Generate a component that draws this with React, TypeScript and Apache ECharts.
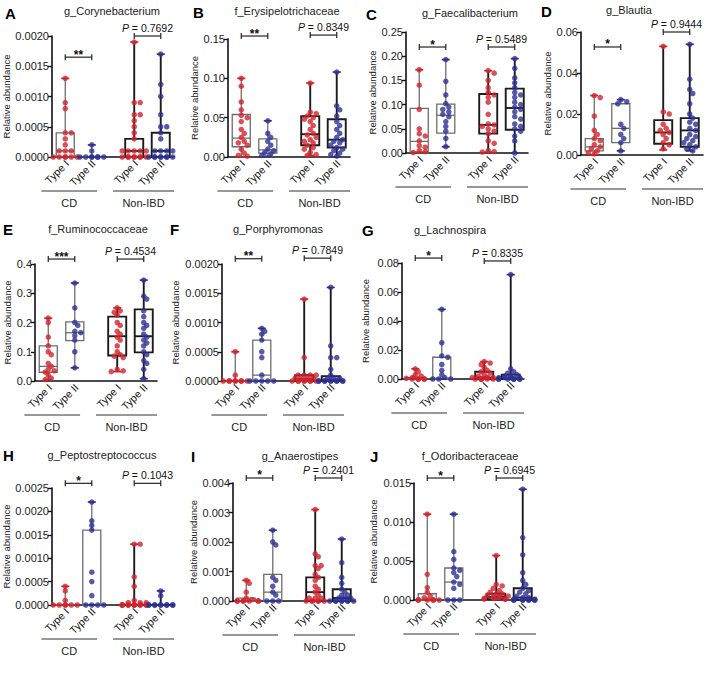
import React, { useEffect, useRef } from "react";
import * as echarts from "echarts";

// ---------------- data ----------------
const TITLES = ["g_Corynebacterium", "f_Erysipelotrichaceae", "g_Faecalibacterium", "g_Blautia", "f_Ruminococcaceae", "g_Porphyromonas", "g_Lachnospira", "g_Peptostreptococcus", "g_Anaerostipes", "f_Odoribacteraceae"];
const LETTERS = ["A", "B", "C", "D", "E", "F", "G", "H", "I", "J"];
const TYPE_LABELS = ["Type I", "Type II", "Type I", "Type II"];
const GROUP_LABELS = ["CD", "Non-IBD"];
const CD_STARS = ["**", "**", "*", "*", "***", "**", "*", "*", "*", "*"];
const NONIBD_P = ["0.7692", "0.8349", "0.5489", "0.9444", "0.4534", "0.7849", "0.8335", "0.1043", "0.2401", "0.6945"];
const Y_MAX = [0.002, 0.15, 0.25, 0.06, 0.4, 0.002, 0.08, 0.0025, 0.004, 0.015];
const Y_STEP = [0.0005, 0.05, 0.05, 0.02, 0.1, 0.0005, 0.02, 0.0005, 0.001, 0.005];
const Y_DEC = [4, 2, 2, 2, 1, 4, 2, 4, 3, 3];
const CD_BRACKET_Y = [0.00165, 0.1538, 0.219, 0.0527, 0.417, 0.00209, 0.0834, 0.0026, 0.00417, 0.01564];
const NONIBD_BRACKET_Y = [0.002, 0.155, 0.219, 0.06, 0.417, 0.0021, 0.0814, 0.0026, 0.00417, 0.01564];

// boxes: [min, q1, median, q3, max] for CD Type I, CD Type II, Non-IBD Type I, Non-IBD Type II
const boxA = [[0, 0, 0.0001, 0.0004, 0.0013], [0, 0, 0, 0, 0.0002], [0, 0, 0.0001, 0.0003, 0.0019], [0, 0, 0.0001, 0.0004, 0.0017]];
const boxB = [[0, 0.013, 0.024, 0.054, 0.10], [0.001, 0.005, 0.009, 0.023, 0.046], [0.002, 0.015, 0.029, 0.052, 0.094], [0, 0.012, 0.022, 0.048, 0.108]];
const boxC = [[0.001, 0.002, 0.024, 0.092, 0.172], [0.013, 0.041, 0.078, 0.101, 0.193], [0.002, 0.04, 0.058, 0.122, 0.17], [0, 0.048, 0.093, 0.133, 0.195]];
const boxD = [[0, 0.002, 0.004, 0.008, 0.029], [0.002, 0.006, 0.013, 0.025, 0.027], [0.0025, 0.0055, 0.011, 0.017, 0.053], [0.002, 0.004, 0.012, 0.018, 0.054]];
const boxE = [[0.005, 0.03, 0.05, 0.12, 0.215], [0.045, 0.138, 0.165, 0.202, 0.335], [0.032, 0.087, 0.153, 0.22, 0.25], [0.008, 0.098, 0.153, 0.245, 0.345]];
const boxF = [[0, 0, 0, 0, 0.0005], [0, 0, 0.0001, 0.0007, 0.0009], [0, 0, 0.00003, 0.0001, 0.0014], [0, 0, 0.00002, 0.00008, 0.0016]];
const boxG = [[0, 0, 0.0002, 0.001, 0.007], [0, 0, 0.0005, 0.015, 0.048], [0, 0, 0.001, 0.005, 0.012], [0, 0, 0.0005, 0.003, 0.072]];
const boxH = [[0, 0, 0, 0, 0.0004], [0, 0, 0, 0.0016, 0.0022], [0, 0, 0, 0, 0.0013], [0, 0, 0, 0, 0.0003]];
const boxI = [[0, 0, 0, 0.0001, 0.0007], [0, 0, 0.0003, 0.0009, 0.0024], [0, 0, 0.0003, 0.0008, 0.0031], [0, 0, 0.0001, 0.0004, 0.0021]];
const boxJ = [[0, 0, 0.0001, 0.0008, 0.011], [0, 0, 0.0023, 0.0041, 0.011], [0.0001, 0.0001, 0.0004, 0.0008, 0.0057], [0, 0, 0.0003, 0.0015, 0.0142]];

// individual samples
const ptsA = [
  [0.0013, 0.0009, 0.0008, 0.0004, 0.0004, 0.0003, 0.0002, 0.0001, 0.0001, 0.0001, 0, 0, 0, 0, 0, 0],
  [0.0002, 0.0001, 0, 0, 0, 0, 0, 0, 0],
  [0.0019, 0.0009, 0.0009, 0.0007, 0.0007, 0.0006, 0.0005, 0.0004, 0.0003, 0.0001, 0.0001, 0.0001, 0.0001, 0.0001, 0, 0, 0, 0, 0, 0, 0, 0],
  [0.0017, 0.0012, 0.001, 0.0007, 0.0005, 0.0005, 0.0004, 0.0003, 0.0001, 0.0001, 0.0001, 0.0001, 0, 0, 0, 0, 0, 0, 0, 0],
];
const ptsB = [
  [0.10, 0.09, 0.07, 0.06, 0.053, 0.05, 0.045, 0.035, 0.03, 0.025, 0.02, 0.018, 0.015, 0.01, 0.005, 0.002, 0.001],
  [0.046, 0.03, 0.025, 0.02, 0.015, 0.01, 0.008, 0.006, 0.004, 0.002],
  [0.094, 0.057, 0.055, 0.052, 0.05, 0.048, 0.045, 0.04, 0.035, 0.03, 0.028, 0.025, 0.022, 0.02, 0.018, 0.015, 0.012, 0.01, 0.006, 0.003, 0.002],
  [0.108, 0.065, 0.06, 0.052, 0.045, 0.04, 0.035, 0.03, 0.025, 0.022, 0.02, 0.018, 0.015, 0.012, 0.01, 0.008, 0.005, 0.003, 0.001],
];
const ptsC = [
  [0.172, 0.14, 0.09, 0.05, 0.04, 0.035, 0.025, 0.015, 0.012, 0.005, 0.003, 0.001],
  [0.193, 0.148, 0.12, 0.102, 0.095, 0.09, 0.085, 0.08, 0.075, 0.065, 0.055, 0.045, 0.03, 0.013],
  [0.17, 0.165, 0.15, 0.135, 0.125, 0.12, 0.115, 0.105, 0.08, 0.06, 0.058, 0.055, 0.05, 0.045, 0.04, 0.025, 0.02, 0.005, 0.003, 0.002],
  [0.195, 0.175, 0.155, 0.145, 0.135, 0.125, 0.12, 0.115, 0.105, 0.1, 0.095, 0.09, 0.085, 0.075, 0.07, 0.06, 0.055, 0.05, 0.045, 0.035, 0.025, 0],
];
const ptsD = [
  [0.029, 0.028, 0.019, 0.012, 0.01, 0.008, 0.007, 0.005, 0.004, 0.003, 0.002, 0.001, 0.0005],
  [0.027, 0.026, 0.025, 0.015, 0.013, 0.01, 0.008, 0.006, 0.002],
  [0.053, 0.021, 0.02, 0.015, 0.013, 0.012, 0.011, 0.01, 0.008, 0.006, 0.005, 0.003],
  [0.054, 0.037, 0.032, 0.03, 0.025, 0.02, 0.018, 0.016, 0.015, 0.013, 0.012, 0.01, 0.009, 0.008, 0.007, 0.006, 0.005, 0.004, 0.003, 0.002],
];
const ptsE = [
  [0.215, 0.2, 0.15, 0.12, 0.1, 0.09, 0.06, 0.05, 0.04, 0.035, 0.03, 0.02, 0.01, 0.005],
  [0.335, 0.25, 0.2, 0.19, 0.17, 0.165, 0.155, 0.14, 0.1, 0.045],
  [0.25, 0.24, 0.235, 0.225, 0.2, 0.19, 0.17, 0.16, 0.15, 0.14, 0.12, 0.1, 0.09, 0.085, 0.08, 0.04, 0.035, 0.032],
  [0.345, 0.29, 0.28, 0.24, 0.22, 0.2, 0.19, 0.18, 0.16, 0.15, 0.14, 0.13, 0.12, 0.1, 0.09, 0.07, 0.06, 0.04, 0.008],
];
const ptsF = [
  [0.0005, 0.0001, 0, 0, 0, 0, 0, 0, 0, 0],
  [0.0009, 0.00085, 0.0008, 0.0007, 0.0005, 0.0004, 0.0001, 0, 0, 0, 0, 0],
  [0.0014, 0.0004, 0.0001, 0.0001, 0.0001, 0.0001, 0.00005, 0.00005, 0.00005, 0.00005, 0, 0, 0, 0, 0, 0, 0, 0],
  [0.0016, 0.0006, 0.0004, 0.0004, 0.0002, 0.0001, 0.00005, 0.00005, 0.00005, 0, 0, 0, 0, 0, 0, 0, 0, 0, 0],
];
const ptsG = [
  [0.007, 0.005, 0.003, 0.002, 0.001, 0.0005, 0, 0, 0, 0, 0],
  [0.048, 0.025, 0.016, 0.015, 0.01, 0.006, 0.003, 0.001, 0, 0, 0],
  [0.012, 0.011, 0.01, 0.008, 0.006, 0.005, 0.004, 0.003, 0.002, 0.001, 0.001, 0.001, 0.001, 0, 0, 0, 0, 0, 0],
  [0.072, 0.007, 0.005, 0.004, 0.003, 0.002, 0.002, 0.001, 0.001, 0.001, 0.001, 0, 0, 0, 0, 0, 0, 0, 0],
];
const ptsH = [
  [0.0004, 0.0003, 0.0001, 0, 0, 0, 0, 0, 0],
  [0.0022, 0.0018, 0.0017, 0.0016, 0.0007, 0.0005, 0.0002, 0, 0, 0, 0],
  [0.0013, 0.0013, 0.0006, 0.0004, 0.0001, 0.00005, 0.00005, 0.00005, 0, 0, 0, 0, 0, 0, 0, 0, 0, 0, 0, 0],
  [0.0003, 0.0002, 0, 0, 0, 0, 0, 0, 0, 0, 0, 0],
];
const ptsI = [
  [0.0007, 0.0006, 0.0003, 0.0001, 0.00005, 0, 0, 0, 0, 0, 0, 0],
  [0.0024, 0.002, 0.0019, 0.0008, 0.0007, 0.0005, 0.0003, 0.0002, 0, 0, 0],
  [0.0031, 0.0016, 0.0015, 0.0012, 0.0012, 0.0011, 0.0009, 0.0008, 0.0007, 0.0005, 0.0004, 0.0003, 0.0002, 0.0001, 0.0001, 0.0001, 0, 0, 0, 0, 0, 0],
  [0.0021, 0.0013, 0.0008, 0.0006, 0.0004, 0.0003, 0.0002, 0.0002, 0.0001, 0.0001, 0.0001, 0, 0, 0, 0, 0, 0, 0, 0],
];
const ptsJ = [
  [0.011, 0.0033, 0.0016, 0.001, 0.0005, 0.0003, 0, 0, 0, 0, 0, 0],
  [0.011, 0.0062, 0.0052, 0.0041, 0.0038, 0.0035, 0.003, 0.0023, 0.002, 0.0015, 0, 0, 0],
  [0.0057, 0.002, 0.0018, 0.0015, 0.0012, 0.001, 0.0008, 0.0008, 0.0006, 0.0005, 0.0004, 0.0004, 0.0003, 0.0002, 0.0002, 0.0001, 0.0001, 0.0001],
  [0.0142, 0.008, 0.0058, 0.0035, 0.0025, 0.002, 0.0015, 0.0012, 0.001, 0.0008, 0.0005, 0.0003, 0.0003, 0.0001, 0.0001, 0.0001, 0, 0, 0, 0, 0, 0, 0, 0],
];

const BOXES = [boxA, boxB, boxC, boxD, boxE, boxF, boxG, boxH, boxI, boxJ];
const POINTS = [ptsA, ptsB, ptsC, ptsD, ptsE, ptsF, ptsG, ptsH, ptsI, ptsJ];

// ---------------- layout ----------------
const POS = [0, 1, 2.6, 3.6];
const X_MIN = -0.5;
const X_MAX = 4.1;
const GRID_W = 122;
const GRID_LEFT = [52, 228, 406, 581, 35, 222, 402, 52, 233, 414];
const GRID_TOP = [36, 39, 32, 32, 264, 264, 263, 488, 483, 483];
const GRID_H = [121, 118, 121, 123, 117, 117, 116, 117, 118, 117];
const NAME_GAP = [36, 26, 29, 28, 20, 42, 32, 37, 28, 36];
const LETTER_XY = [[5, 13], [193, 12], [366, 14], [541, 11], [3, 229], [170, 229], [362, 230], [3, 455], [191, 456], [370, 456]];
const TITLE_XY = [[112, 11], [287, 11], [470, 13], [629, 10], [98, 229], [278, 229], [450, 230], [102, 455], [300, 456], [470, 456]];
const GROUP_SPANS = [[-0.9, 1.2], [1.8, 4.1]];

const RED = "#d2232d";
const BLUE = "#2d3192";
const FONT = "'Liberation Sans', Arial, Helvetica, sans-serif";

function swarmOffsets(vals: number[], yPx: number, xUnitPx: number): number[] {
  const dia = 4.6;
  const step = 3.0;
  const ks = [0];
  for (let k = 1; k <= 4; k++) ks.push(k, -k);
  const placed: { x: number; y: number }[] = [];
  return vals.map((v) => {
    const y = v * yPx;
    let bestK = 0;
    let bestC = Infinity;
    for (const k of ks) {
      const x = k * step;
      let c = 0;
      for (const p of placed) {
        const dx = p.x - x;
        const dy = p.y - y;
        if (dx * dx + dy * dy < dia * dia * 0.8) c++;
      }
      if (c < bestC) {
        bestC = c;
        bestK = k;
        if (c === 0) break;
      }
    }
    placed.push({ x: bestK * step, y });
    return (bestK * step) / xUnitPx;
  });
}

function buildOption() {
  const grid: any[] = [];
  const xAxis: any[] = [];
  const yAxis: any[] = [];
  const series: any[] = [];
  const graphic: any[] = [];
  const xUnitPx = GRID_W / (X_MAX - X_MIN);

  for (let i = 0; i < 10; i++) {
    grid.push({ left: GRID_LEFT[i], top: GRID_TOP[i], width: GRID_W, height: GRID_H[i] });
    xAxis.push({
      type: "value",
      gridIndex: i,
      min: X_MIN,
      max: X_MAX,
      splitLine: { show: false },
      axisTick: { show: false },
      axisLabel: { show: false },
      axisLine: { show: true, onZero: false, lineStyle: { color: "#111", width: 1.6 } },
    });
    const dec = Y_DEC[i];
    yAxis.push({
      type: "value",
      gridIndex: i,
      min: 0,
      max: Y_MAX[i],
      interval: Y_STEP[i],
      name: "Relative abundance",
      nameLocation: "middle",
      nameGap: NAME_GAP[i],
      nameTextStyle: { fontSize: 9.5, color: "#222", fontFamily: FONT },
      splitLine: { show: false },
      axisLine: { show: true, onZero: false, lineStyle: { color: "#111", width: 1.6 } },
      axisTick: { show: true, length: 4, lineStyle: { color: "#111", width: 1.4 } },
      axisLabel: { fontSize: 11, color: "#222", margin: 3, fontFamily: FONT, formatter: (v: number) => v.toFixed(dec) },
    });

    // boxes
    series.push({
      type: "custom",
      xAxisIndex: i,
      yAxisIndex: i,
      clip: false,
      z: 2,
      silent: true,
      encode: { x: 0, y: [1, 2, 3, 4, 5] },
      data: BOXES[i].map((b, gi) => [POS[gi], b[0], b[1], b[2], b[3], b[4], gi]),
      renderItem: (params: any, api: any) => {
        const x = api.value(0);
        const gi = api.value(6);
        const vMin = api.value(1);
        const q1 = api.value(2);
        const med = api.value(3);
        const q3 = api.value(4);
        const vMax = api.value(5);
        const stroke = gi < 2 ? "#6e6e6e" : "#1b1b1b";
        const lw = gi < 2 ? 1.3 : 1.9;
        const col = gi % 2 === 0 ? RED : BLUE;
        const hw = api.size([0.34, 0])[0];
        const cx = api.coord([x, 0])[0];
        const yy = (v: number) => api.coord([x, v])[1];
        const ln = (x1: number, y1: number, x2: number, y2: number, s: string, w: number) => ({
          type: "line",
          shape: { x1, y1, x2, y2 },
          style: { stroke: s, lineWidth: w },
        });
        return {
          type: "group",
          children: [
            ln(cx, yy(vMax), cx, yy(q3), stroke, lw),
            ln(cx, yy(q1), cx, yy(vMin), stroke, lw),
            {
              type: "rect",
              shape: { x: cx - hw, y: yy(q3), width: 2 * hw, height: yy(q1) - yy(q3) },
              style: { fill: "none", stroke, lineWidth: lw },
            },
            ln(cx - hw, yy(med), cx + hw, yy(med), stroke, lw),
            ln(cx - 4, yy(vMax), cx + 4, yy(vMax), col, 1.7),
            ln(cx - 4, yy(vMin), cx + 4, yy(vMin), col, 1.7),
          ],
        };
      },
    });

    // points
    const yPx = GRID_H[i] / Y_MAX[i];
    const pdata: any[] = [];
    POINTS[i].forEach((vals, gi) => {
      const offs = swarmOffsets(vals, yPx, xUnitPx);
      vals.forEach((v, k) => {
        pdata.push({ value: [POS[gi] + offs[k], v], itemStyle: { color: gi % 2 === 0 ? RED : BLUE } });
      });
    });
    series.push({
      type: "scatter",
      xAxisIndex: i,
      yAxisIndex: i,
      symbol: "circle",
      symbolSize: 5.5,
      z: 3,
      silent: true,
      clip: false,
      data: pdata,
    });

    // annotations
    const idx = i;
    series.push({
      type: "custom",
      xAxisIndex: i,
      yAxisIndex: i,
      clip: false,
      z: 4,
      silent: true,
      encode: { x: 0, y: 1 },
      data: [[0, 0]],
      renderItem: (params: any, api: any) => {
        const c = (x: number, y: number) => api.coord([x, y]);
        const y0 = c(0, 0)[1];
        const children: any[] = [];
        const line = (x1: number, y1: number, x2: number, y2: number, w = 1.2, s = "#222") =>
          children.push({ type: "line", shape: { x1, y1, x2, y2 }, style: { stroke: s, lineWidth: w } });
        const bracket = (x1: number, x2: number, yv: number) => {
          const a = c(x1, yv);
          const b = c(x2, yv);
          line(a[0], a[1], b[0], b[1]);
          line(a[0], a[1] - 3, a[0], a[1] + 3);
          line(b[0], b[1] - 3, b[0], b[1] + 3);
          return [(a[0] + b[0]) / 2, a[1]];
        };
        const s1 = bracket(POS[0], POS[1], CD_BRACKET_Y[idx]);
        children.push({
          type: "text",
          style: {
            text: CD_STARS[idx],
            x: s1[0],
            y: s1[1] - 2.5,
            fill: "#111",
            fontSize: 12,
            fontWeight: "bold",
            fontFamily: FONT,
            align: "center",
            verticalAlign: "middle",
            textAlign: "center",
            textVerticalAlign: "middle",
          },
        });
        const s2 = bracket(POS[2], POS[3], NONIBD_BRACKET_Y[idx]);
        children.push({
          type: "text",
          style: {
            text: "{i|P} = " + NONIBD_P[idx],
            rich: { i: { fontStyle: "italic", fontSize: 10.5, fontFamily: FONT, fill: "#111" } },
            x: s2[0],
            y: s2[1] - 8,
            fill: "#111",
            fontSize: 10.5,
            fontFamily: FONT,
            align: "center",
            verticalAlign: "middle",
            textAlign: "center",
            textVerticalAlign: "middle",
          },
        });
        // rotated category labels under the axis
        POS.forEach((p, k) => {
          const px = c(p, 0)[0];
          children.push({
            type: "text",
            x: px + 2,
            y: y0 + 5,
            rotation: Math.PI / 4,
            style: {
              text: TYPE_LABELS[k],
              x: 0,
              y: 0,
              fill: "#111",
              fontSize: 10.5,
              fontFamily: FONT,
              align: "right",
              verticalAlign: "middle",
              textAlign: "right",
              textVerticalAlign: "middle",
            },
          });
        });
        GROUP_SPANS.forEach((sp, k) => {
          const xa = c(sp[0], 0)[0];
          const xb = c(sp[1], 0)[0];
          line(xa, y0 + 34, xb, y0 + 34, 1.1, "#333");
          children.push({
            type: "text",
            style: {
              text: GROUP_LABELS[k],
              x: (xa + xb) / 2,
              y: y0 + 46,
              fill: "#222",
              fontSize: 11,
              fontFamily: FONT,
              align: "center",
              verticalAlign: "middle",
              textAlign: "center",
              textVerticalAlign: "middle",
            },
          });
        });
        return { type: "group", children };
      },
    });

    graphic.push({
      type: "text",
      x: LETTER_XY[i][0],
      y: LETTER_XY[i][1],
      style: {
        text: LETTERS[i],
        fill: "#000",
        fontSize: 15,
        fontWeight: "bold",
        fontFamily: FONT,
        align: "left",
        verticalAlign: "middle",
        textAlign: "left",
        textVerticalAlign: "middle",
      },
    });
    graphic.push({
      type: "text",
      x: TITLE_XY[i][0],
      y: TITLE_XY[i][1],
      style: {
        text: TITLES[i],
        fill: "#222",
        fontSize: 11,
        fontFamily: FONT,
        align: "center",
        verticalAlign: "middle",
        textAlign: "center",
        textVerticalAlign: "middle",
      },
    });
  }

  return {
    animation: false,
    backgroundColor: "#ffffff",
    textStyle: { fontFamily: FONT },
    grid,
    xAxis,
    yAxis,
    series,
    graphic,
  };
}

export default function App() {
  const ref = useRef<HTMLDivElement>(null);
  useEffect(() => {
    if (!ref.current) return;
    const chart = echarts.init(ref.current, undefined, { renderer: "svg" });
    chart.setOption(buildOption() as any);
    return () => chart.dispose();
  }, []);
  return <div ref={ref} style={{ position: "absolute", left: 0, top: 0, width: 710, height: 680 }} />;
}
